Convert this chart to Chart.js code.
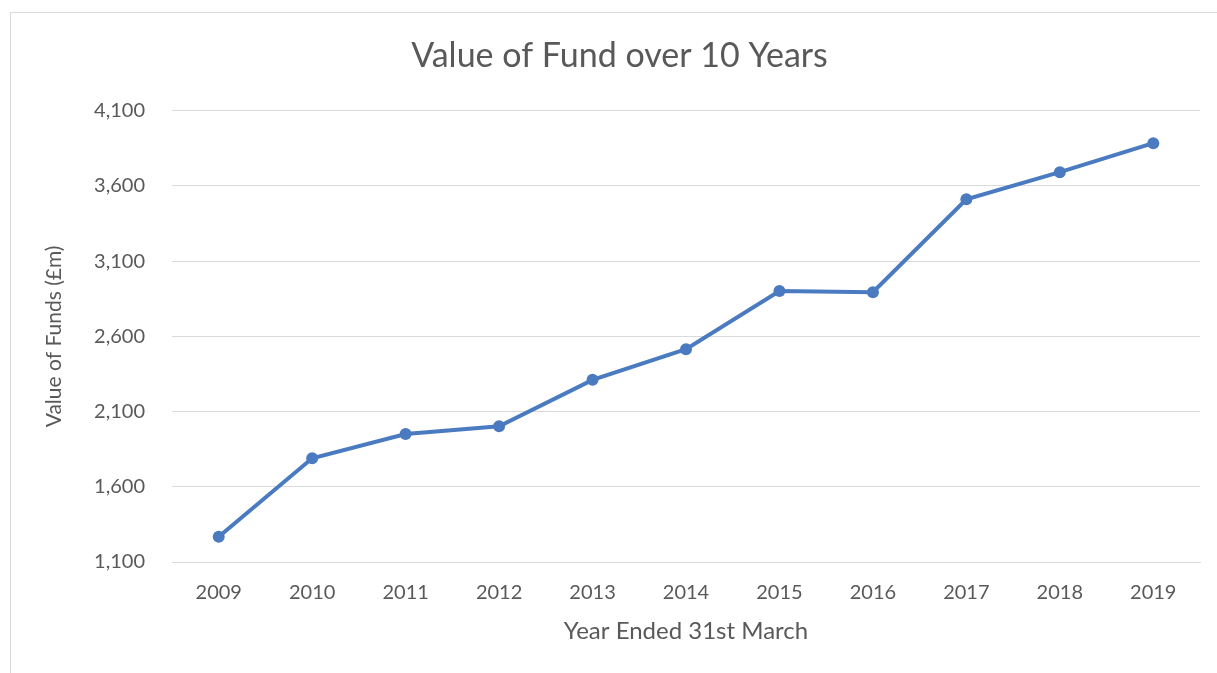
<!DOCTYPE html>
<html lang="en">
<head>
  <meta charset="UTF-8" />
  <title>Value of Fund over 10 Years</title>
  <script src="https://cdn.jsdelivr.net/npm/chart.js"></script>
  <style>
    html, body { margin: 0; padding: 0; background: #fff; }
    body { width: 1217px; height: 673px; position: relative; overflow: hidden; }
    .frame { position: absolute; left: 10px; top: 12px; width: 1220px; height: 670px; border: 1px solid #d9d9d9; box-sizing: border-box; }
    .chart-box { position: absolute; left: 0; top: 0; width: 1217px; height: 673px; }
  </style>
</head>
<body>
<div class="frame"></div>
<div class="chart-box">
  <canvas id="fundChart" width="1217" height="673"></canvas>
</div>

<script>
  const years = ["2009", "2010", "2011", "2012", "2013", "2014", "2015", "2016", "2017", "2018", "2019"];
  const fundValues = [1268, 1790, 1951, 2002, 2311, 2515, 2902, 2894, 3512, 3692, 3885];
  const yTicks = [1100, 1600, 2100, 2600, 3100, 3600, 4100];

  const chartTitle = "Value of Fund over 10 Years";
  const xTitle = "Year Ended 31st March";
  const yTitle = "Value of Funds (£m)";

  const textGrey = "#595959";
  const gridGrey = "#d9d9d9";
  const lineBlue = "#4a7bc0";
  const fontFamily = "Lato, 'Open Sans', sans-serif";

  const ctx = document.getElementById("fundChart").getContext("2d");
  const fundChart = new Chart(ctx, {
    type: 'line',
    data: {
      labels: years,
      datasets: [{
        label: "Value of Funds",
        data: fundValues,
        borderColor: lineBlue,
        backgroundColor: lineBlue,
        borderWidth: 4,
        pointRadius: 6,
        pointBackgroundColor: lineBlue,
        pointBorderWidth: 0,
        tension: 0,
        fill: false
      }]
    },
    options: {
      responsive: false,
      animation: false,
      // left padding larger than right so the title sits a bit right of the canvas centre
      layout: { padding: { left: 39, right: 17, top: 0, bottom: 0 } },
      plugins: {
        legend: { display: false },
        tooltip: { enabled: false },
        title: {
          display: true,
          text: chartTitle,
          color: textGrey,
          font: { family: fontFamily, size: 34, weight: 'normal' },
          padding: { top: 36, bottom: 34 }
        }
      },
      scales: {
        x: {
          offset: true,
          grid: { display: false, drawTicks: false },
          border: { display: true, color: gridGrey, width: 1 },
          ticks: { color: textGrey, font: { family: fontFamily, size: 20 }, padding: 19, maxRotation: 0 },
          title: {
            display: true, text: xTitle, color: textGrey,
            font: { family: fontFamily, size: 24 },
            padding: { top: 0, bottom: 27 }
          },
          afterFit: scale => { scale.height = 111; }
        },
        y: {
          min: 1100,
          max: 4100,
          afterBuildTicks: scale => { scale.ticks = yTicks.map(v => ({ value: v })); },
          grid: { color: gridGrey, lineWidth: 1, drawTicks: false },
          border: { display: false },
          ticks: {
            color: textGrey,
            font: { family: fontFamily, size: 20 },
            padding: 27,
            callback: v => v.toLocaleString('en-GB')
          },
          title: {
            display: true, text: yTitle, color: textGrey,
            font: { family: fontFamily, size: 21 },
            padding: { top: 3, bottom: 0 }
          },
          afterFit: scale => { scale.width = 133; }
        }
      }
    }
  });
</script>
</body>
</html>
